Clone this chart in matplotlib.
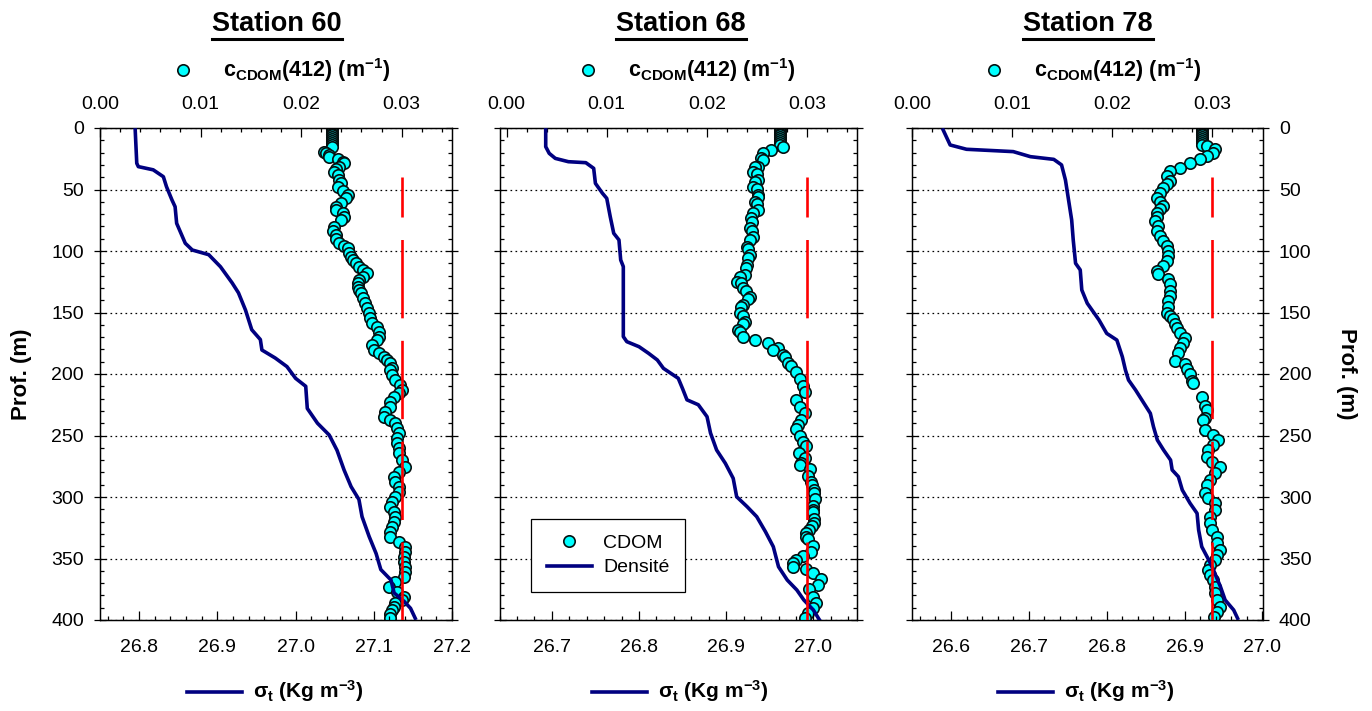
import numpy as np
import matplotlib
matplotlib.use("Agg")
import matplotlib.pyplot as plt
from matplotlib.lines import Line2D
from matplotlib.ticker import FixedLocator, MultipleLocator, FormatStrFormatter

plt.rcParams['font.family'] = ['Liberation Sans', 'DejaVu Sans']
plt.rcParams['mathtext.fontset'] = 'custom'
plt.rcParams['mathtext.rm'] = 'Liberation Sans'
plt.rcParams['mathtext.bf'] = 'Liberation Sans:bold'
plt.rcParams['mathtext.it'] = 'Liberation Sans:italic'
plt.rcParams['lines.scale_dashes'] = False
plt.rcParams['axes.linewidth'] = 0.9

# ---- data ----
stations = ['Station 60', 'Station 68', 'Station 78']

# Station 60 : density (sigma-t) profile
dens_depth_60 = [1.6, 28.7, 31.4, 34, 39.6, 47.7, 58.5, 64, 77.5, 93.7, 99.2, 103, 112.8, 126, 134,
                 148, 164, 172, 180.5, 187, 194, 203.5, 210, 228, 240, 249.6, 262, 278, 291.6, 302,
                 316, 332, 346, 359, 367.5, 378, 385, 390.5, 398.6]
dens_60 = [26.795, 26.797, 26.799, 26.818, 26.831, 26.835, 26.842, 26.846, 26.848, 26.859, 26.868,
           26.889, 26.904, 26.919, 26.927, 26.936, 26.944, 26.955, 26.957, 26.974, 26.989, 27.000,
           27.013, 27.015, 27.028, 27.043, 27.053, 27.062, 27.071, 27.081, 27.085, 27.094, 27.103,
           27.109, 27.122, 27.126, 27.139, 27.147, 27.153]
# Station 60 : CDOM absorption at 412 nm (two reading passes, sorted by depth before drawing)
cdom_depth_60 = [0, 1.5, 3, 4.5, 6, 7.5, 9, 10.5, 12, 13.5, 15.2, 20.6, 23.3, 27.4, 31.4, 35.5, 42.3,
                 47.7, 54.5, 61.2, 66.7, 72.1, 80.2, 87, 93.7, 97.8, 101.9, 107.3, 112.7, 118.2,
                 123.6, 129, 134.4, 142.5, 150.7, 158.8, 165.6, 172.4, 180.5, 185.9, 191.3, 196.7,
                 204.9, 213, 218.4, 226.6, 234.7, 240.1, 248.2, 256.4, 264.5, 275.3, 283.5, 291.6,
                 299.8, 307.9, 316, 324.1, 332.2, 340.4, 348.5, 356.7, 364.8, 372.9, 381, 386.4,
                 391.9, 398.6,
                 19.2, 22, 25.5, 28.7, 33.6, 38.2, 45, 51, 57.2, 64, 69.4, 74.8, 83.5, 90.5, 95.9,
                 104.6, 110, 115.4, 120.9, 126.3, 131.7, 138.5, 146.6, 154.7, 161.5, 169.6, 176.4,
                 183.2, 188.6, 195.4, 200.8, 209, 215.7, 222.5, 230.6, 237.4, 244.2, 252.3, 260.4,
                 269.9, 279.4, 287.5, 295.7, 303.8, 311.9, 320, 328.2, 336.3, 344.4, 352.6, 360.7,
                 368.8, 377, 383.7, 389.2, 395.1]
cdom_60 = [0.0231, 0.0231, 0.0231, 0.0231, 0.0231, 0.0231, 0.0231, 0.0231, 0.0231, 0.0231, 0.0231,
           0.0225, 0.0228, 0.0242, 0.0238, 0.0233, 0.0238, 0.0237, 0.0247, 0.0240, 0.0235, 0.0243,
           0.0233, 0.0235, 0.0238, 0.0247, 0.0248, 0.0252, 0.0258, 0.0265, 0.0258, 0.0257, 0.0260,
           0.0263, 0.0267, 0.0270, 0.0277, 0.0275, 0.0272, 0.0282, 0.0288, 0.0288, 0.0293, 0.0300,
           0.0292, 0.0288, 0.0282, 0.0293, 0.0297, 0.0295, 0.0297, 0.0303, 0.0292, 0.0297, 0.0293,
           0.0288, 0.0293, 0.0290, 0.0288, 0.0303, 0.0302, 0.0303, 0.0302, 0.0287, 0.0302, 0.0293,
           0.0290, 0.0288,
           0.0223, 0.0228, 0.0237, 0.0243, 0.0235, 0.0237, 0.0240, 0.0242, 0.0245, 0.0235, 0.0242,
           0.0240, 0.0232, 0.0235, 0.0243, 0.0250, 0.0255, 0.0262, 0.0262, 0.0257, 0.0258, 0.0262,
           0.0265, 0.0268, 0.0275, 0.0277, 0.0270, 0.0277, 0.0285, 0.0290, 0.0290, 0.0298, 0.0297,
           0.0288, 0.0283, 0.0288, 0.0295, 0.0295, 0.0297, 0.0300, 0.0297, 0.0293, 0.0297, 0.0290,
           0.0292, 0.0292, 0.0288, 0.0297, 0.0303, 0.0302, 0.0303, 0.0293, 0.0295, 0.0300, 0.0292,
           0.0288]

# Station 68
dens_depth_68 = [1.6, 15.2, 20.6, 24.7, 27.4, 28.2, 32.8, 45, 53, 57.2, 72.1, 85.6, 91, 107.3, 112.7,
                 169.6, 173.7, 177.8, 183.2, 188.6, 195.4, 203.5, 212, 221, 225, 234.7, 248, 261.8,
                 272.6, 284.8, 299.8, 307.9, 316, 328.2, 340.4, 356.7, 367.5, 375.6, 383.7, 391.9, 400]
dens_68 = [26.693, 26.693, 26.697, 26.704, 26.719, 26.739, 26.748, 26.750, 26.758, 26.763, 26.767,
           26.771, 26.777, 26.779, 26.782, 26.782, 26.786, 26.800, 26.811, 26.821, 26.828, 26.845,
           26.850, 26.855, 26.868, 26.878, 26.882, 26.889, 26.899, 26.908, 26.912, 26.924, 26.935,
           26.945, 26.954, 26.960, 26.970, 26.981, 26.989, 27.000, 27.007]
cdom_depth_68 = [0, 1.5, 3, 4.5, 6, 7.5, 9, 10.5, 12, 13.5, 15.2, 17.9, 20.6, 24.7, 31.4, 35.5, 42.3,
                 47.7, 54.5, 59.9, 66.7, 73.5, 81.6, 88.4, 96.5, 103.3, 111.4, 119.5, 124.9, 130.4,
                 137.1, 143.9, 150.7, 157.5, 164.2, 169.6, 172.4, 175.1, 179.1, 184.6, 191.3, 198.1,
                 210, 221, 232, 237, 245, 250.4, 258.5, 264, 272, 277, 283, 290, 296.5, 302, 307.3,
                 312.5, 318, 323.6, 329, 334.5, 340, 348, 353.4, 358.8, 367, 375, 386, 394, 398,
                 26, 32, 37.4, 43.6, 49.8, 55.8, 61.8, 68.8, 76.2, 83.5, 91.1, 98.7, 106, 114.1,
                 120.9, 126.3, 132.3, 139.3, 145.8, 152.9, 159.3, 165.6, 180.5, 186.5, 193.5, 204,
                 215, 226.5, 241.4, 255, 268.6, 274, 287.5, 294.3, 310.6, 321.4, 326.8, 332.2, 344.4,
                 351.2, 356.7, 362.1, 371.5, 381, 390.5]
cdom_68 = [0.0273, 0.0273, 0.0273, 0.0273, 0.0273, 0.0273, 0.0273, 0.0273, 0.0273, 0.0273, 0.0276,
           0.0264, 0.0256, 0.0254, 0.0251, 0.0246, 0.0251, 0.0246, 0.0251, 0.0248, 0.0251, 0.0244,
           0.0243, 0.0246, 0.0240, 0.0243, 0.0240, 0.0238, 0.0230, 0.0236, 0.0243, 0.0236, 0.0233,
           0.0238, 0.0231, 0.0236, 0.0248, 0.0261, 0.0271, 0.0276, 0.0281, 0.0289, 0.0296, 0.0289,
           0.0298, 0.0294, 0.0289, 0.0293, 0.0299, 0.0292, 0.0294, 0.0303, 0.0301, 0.0305, 0.0307,
           0.0308, 0.0306, 0.0306, 0.0307, 0.0305, 0.0299, 0.0301, 0.0306, 0.0296, 0.0286, 0.0299,
           0.0314, 0.0302, 0.0309, 0.0301, 0.0298,
           0.0256, 0.0248, 0.0250, 0.0248, 0.0250, 0.0251, 0.0250, 0.0246, 0.0245, 0.0245, 0.0243,
           0.0241, 0.0241, 0.0239, 0.0233, 0.0234, 0.0239, 0.0241, 0.0234, 0.0236, 0.0236, 0.0233,
           0.0266, 0.0278, 0.0284, 0.0293, 0.0298, 0.0293, 0.0291, 0.0296, 0.0298, 0.0293, 0.0304,
           0.0307, 0.0306, 0.0307, 0.0302, 0.0299, 0.0304, 0.0289, 0.0286, 0.0306, 0.0311, 0.0306,
           0.0306]

# Station 78
dens_depth_78 = [1.6, 8.4, 13.8, 17.3, 19.2, 23.3, 25.5, 30, 42.3, 58.5, 74.8, 91, 110, 115.4, 131.7,
                 142.5, 156, 167, 172.4, 185.9, 196.7, 204.9, 213, 221, 232, 242.8, 253.7, 261.8,
                 270, 278, 283.5, 294.3, 305.1, 313.3, 326.8, 340.4, 351.2, 359.3, 372.9, 383.7,
                 391.9, 398.6]
dens_78 = [26.590, 26.595, 26.599, 26.620, 26.680, 26.702, 26.732, 26.742, 26.747, 26.751, 26.755,
           26.757, 26.760, 26.766, 26.768, 26.775, 26.790, 26.800, 26.813, 26.820, 26.824, 26.828,
           26.837, 26.845, 26.856, 26.860, 26.865, 26.873, 26.882, 26.884, 26.892, 26.897, 26.907,
           26.916, 26.918, 26.922, 26.931, 26.937, 26.946, 26.952, 26.963, 26.968]
cdom_depth_78 = [0, 1.5, 3, 4.5, 6, 7.5, 9, 10.5, 12, 13.5, 15, 17.3, 20, 22.8, 25.5, 28.2, 32.2,
                 34.9, 39, 43.1, 48.5, 56.6, 63.4, 68.8, 75.6, 83.7, 91.9, 100, 108.1, 116.3, 123,
                 132.5, 140.7, 150.2, 155.6, 162.3, 170.5, 178.6, 189.5, 192.1, 200.3, 207.6, 218.4,
                 229.3, 237.4, 245.5, 253.7, 261.8, 267.2, 275.3, 280.8, 286.2, 297, 305.1, 316,
                 326.8, 332.2, 343, 351.2, 359.3, 367.5, 378.3, 389.2, 397.3,
                 45.7, 52.5, 59.8, 66, 72, 79.6, 87.7, 95.9, 104, 112.2, 119, 127.1, 136.6, 145.5,
                 152.9, 159.1, 166.4, 174.5, 182.7, 196.2, 205.7, 226, 235.5, 249.6, 257.7, 271.3,
                 290.3, 301.1, 310.6, 321.4, 337.7, 347.2, 355.3, 363.4, 372.9, 383.7, 393.2]
cdom_78 = [0.0290, 0.0290, 0.0290, 0.0290, 0.0290, 0.0290, 0.0290, 0.0290, 0.0290, 0.0290, 0.0295,
           0.0303, 0.0301, 0.0295, 0.0288, 0.0278, 0.0268, 0.0258, 0.0255, 0.0258, 0.0251, 0.0245,
           0.0251, 0.0245, 0.0243, 0.0245, 0.0251, 0.0256, 0.0255, 0.0245, 0.0256, 0.0258, 0.0256,
           0.0255, 0.0261, 0.0265, 0.0273, 0.0268, 0.0263, 0.0273, 0.0278, 0.0281, 0.0290, 0.0295,
           0.0291, 0.0293, 0.0306, 0.0296, 0.0295, 0.0308, 0.0303, 0.0298, 0.0293, 0.0303, 0.0298,
           0.0300, 0.0305, 0.0308, 0.0303, 0.0296, 0.0301, 0.0303, 0.0308, 0.0302,
           0.0255, 0.0248, 0.0248, 0.0248, 0.0245, 0.0246, 0.0248, 0.0255, 0.0256, 0.0251, 0.0246,
           0.0258, 0.0258, 0.0256, 0.0258, 0.0263, 0.0268, 0.0271, 0.0266, 0.0275, 0.0280, 0.0293,
           0.0293, 0.0301, 0.0301, 0.0300, 0.0295, 0.0296, 0.0303, 0.0298, 0.0305, 0.0305, 0.0298,
           0.0298, 0.0303, 0.0305, 0.0305]

dens_depths = [dens_depth_60, dens_depth_68, dens_depth_78]
dens_vals = [dens_60, dens_68, dens_78]
cdom_depths = [cdom_depth_60, cdom_depth_68, cdom_depth_78]
cdom_vals = [cdom_60, cdom_68, cdom_78]

cdom_threshold = 0.03
threshold_depth = [40, 400]

cdom_ticks = [0.00, 0.01, 0.02, 0.03]
dens_ticks = [[26.8, 26.9, 27.0, 27.1, 27.2],
              [26.7, 26.8, 26.9, 27.0],
              [26.6, 26.7, 26.8, 26.9, 27.0]]
cdom_lims = [(0, 0.035), (-0.0007, 0.035), (0, 0.035)]
dens_lims = [(26.75, 27.2), (26.64, 27.05), (26.55, 27.0)]

# ---- layout (pixels) ----
W, H = 1372, 711
panel_px = [(100, 452), (499.5, 857), (912, 1262.5)]
top_px, bot_px = 128, 620
title_x = [277, 681, 1088]
key_x = [183, 588, 994]

CYAN = '#00FFFF'
NAVY = '#000080'
EDGE = '#061010'
MS = 8.2
MEW = 1.2

fig = plt.figure(figsize=(W / 100, H / 100), dpi=100)

titles = []
for i in range(3):
    l, r = panel_px[i]
    ax = fig.add_axes([l / W, (H - bot_px) / H, (r - l) / W, (bot_px - top_px) / H])
    ax2 = ax.twiny()
    ax.xaxis.tick_top()
    ax2.xaxis.tick_bottom()

    order = np.argsort(cdom_depths[i], kind='stable')
    ax.plot(np.asarray(cdom_vals[i])[order], np.asarray(cdom_depths[i])[order], ls='none',
            marker='o', ms=MS, mfc=CYAN, mec=EDGE, mew=MEW, zorder=3)
    ax2.plot(dens_vals[i], dens_depths[i], color=NAVY, lw=2.6, zorder=3)
    ax2.plot([cdom_threshold, cdom_threshold], threshold_depth, color='red', lw=1.9,
             ls=(27.6, (56.4, 16.2)), transform=ax.transData, zorder=4)

    ax.set_xlim(cdom_lims[i])
    ax2.set_xlim(dens_lims[i])
    ax.set_ylim(400, 0)

    ax.xaxis.set_major_locator(FixedLocator(cdom_ticks))
    ax.xaxis.set_major_formatter(FormatStrFormatter('%.2f'))
    ax.xaxis.set_minor_locator(MultipleLocator(0.002))
    ax.tick_params(axis='x', which='major', direction='in', length=6.5, width=0.9,
                   pad=10.5, labelsize=14)
    ax.tick_params(axis='x', which='minor', direction='in', length=3, width=0.9)

    ax2.xaxis.set_major_locator(FixedLocator(dens_ticks[i]))
    ax2.xaxis.set_major_formatter(FormatStrFormatter('%.1f'))
    ax2.xaxis.set_minor_locator(MultipleLocator(0.02))
    ax2.tick_params(axis='x', which='major', direction='in', length=6.5, width=0.9,
                    pad=14, labelsize=14)
    ax2.tick_params(axis='x', which='minor', direction='in', length=3, width=0.9)

    ax.yaxis.set_major_locator(MultipleLocator(50))
    ax.yaxis.set_minor_locator(MultipleLocator(10))
    ax.tick_params(axis='y', which='both', left=True, right=True,
                   labelleft=(i == 0), labelright=(i == 2))
    ax.tick_params(axis='y', which='major', direction='inout', length=9, width=0.9,
                   pad=7.2, labelsize=14)
    ax.tick_params(axis='y', which='minor', direction='in', length=3, width=0.9)

    ax.grid(axis='y', which='major', color='black', lw=0.9, ls=(0, (1.2, 2.4)))

    if i == 1:
        h1 = Line2D([], [], ls='none', marker='o', ms=MS, mfc=CYAN, mec=EDGE, mew=MEW)
        h2 = Line2D([], [], color=NAVY, lw=2.6)
        leg = ax2.legend([h1, h2], ['CDOM', 'Densité'], loc='lower left',
                         bbox_to_anchor=(0.089, 0.057), fontsize=14, frameon=True,
                         fancybox=False, framealpha=1, edgecolor='black',
                         handlelength=2.3, handletextpad=0.6, borderpad=0.8,
                         labelspacing=0.35, borderaxespad=0)
        leg.get_frame().set_linewidth(0.9)

    titles.append(fig.text(title_x[i] / W, 1 - 24 / H, stations[i], fontsize=19.5,
                           fontweight='bold', ha='center', va='center'))

    # key above: CDOM marker
    fig.add_artist(Line2D([key_x[i] / W], [1 - 70 / H], ls='none', marker='o', ms=MS,
                          mfc=CYAN, mec=EDGE, mew=MEW))
    fig.text((key_x[i] + 40) / W, 1 - 77 / H, r'$\mathbf{c_{CDOM}(412)\ (m^{-1})}$',
             fontsize=15.5, ha='left', va='baseline')
    # key below: density line
    fig.add_artist(Line2D([(key_x[i] + 4) / W, (key_x[i] + 59) / W], [1 - 692 / H] * 2,
                          color=NAVY, lw=2.6))
    fig.text((key_x[i] + 70) / W, 1 - 698 / H, r'$\mathbf{\sigma_t\ (Kg\ m^{-3})}$',
             fontsize=15, ha='left', va='baseline')

fig.text(22 / W, 1 - 374 / H, 'Prof. (m)', rotation=90, fontsize=16, fontweight='bold',
         ha='center', va='center')
fig.text(1346 / W, 1 - 374 / H, 'Prof. (m)', rotation=270, fontsize=16, fontweight='bold',
         ha='center', va='center')

# underline the station titles
fig.canvas.draw()
rend = fig.canvas.get_renderer()
inv = fig.transFigure.inverted()
for t in titles:
    bb = t.get_window_extent(rend)
    (x0, _), (x1, _) = inv.transform([(bb.x0, 0), (bb.x1, 0)])
    fig.add_artist(Line2D([x0, x1], [1 - 39 / H] * 2, color='black', lw=2.2))

fig.savefig('out.png', dpi=100)
